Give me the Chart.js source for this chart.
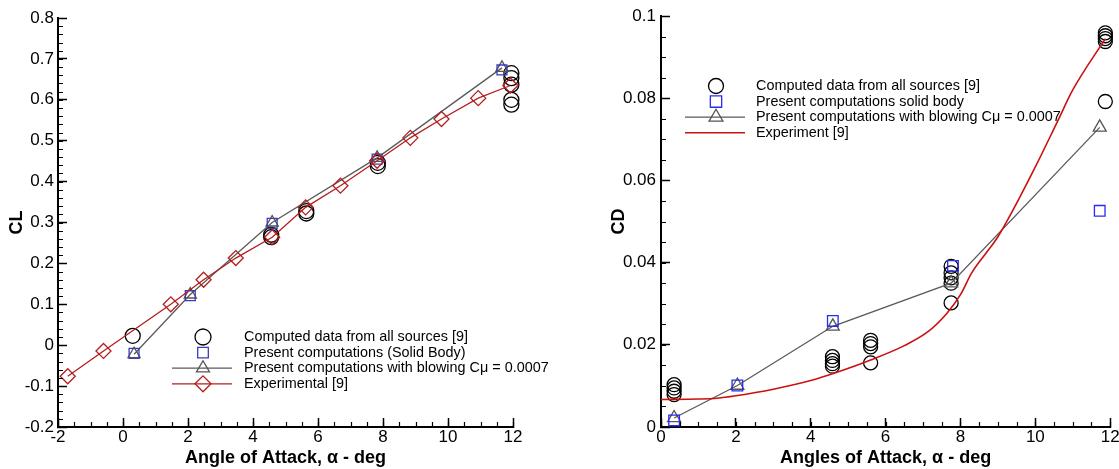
<!DOCTYPE html>
<html>
<head>
<meta charset="utf-8">
<script src="https://cdn.jsdelivr.net/npm/chart.js@4.4.1/dist/chart.umd.min.js"></script>
<style>
  html, body { margin: 0; padding: 0; background: #fff; overflow: hidden; }
  canvas { position: absolute; top: 0; }
</style>
</head>
<body>
<canvas id="cl" style="left:0" width="560" height="469"></canvas>
<canvas id="cd" style="left:560px" width="559" height="469"></canvas>
<script>
// ---- lift coefficient (left panel) ----
const clXTicks = [-2, 0, 2, 4, 6, 8, 10, 12];
const clYTicks = [-0.2, -0.1, 0, 0.1, 0.2, 0.3, 0.4, 0.5, 0.6, 0.7, 0.8];

const clCompAlpha = [0.30, 4.56, 4.56, 5.64, 5.64, 7.84, 7.84, 11.95, 11.95, 11.95, 11.95, 11.95];
const clComp      = [0.023, 0.264, 0.270, 0.322, 0.328, 0.438, 0.446, 0.665, 0.653, 0.637, 0.600, 0.588];
const clSolidAlpha = [0.34, 2.07, 4.59, 7.82, 11.66];
const clSolid      = [-0.020, 0.121, 0.298, 0.455, 0.673];
const clBlowAlpha  = [0.34, 2.07, 4.59, 7.82, 11.66];
const clBlow       = [-0.022, 0.124, 0.300, 0.458, 0.678];
const clExpAlpha = [-1.70, -0.60, 1.47, 2.48, 3.47, 4.59, 5.62, 6.69, 7.82, 8.84, 9.80, 10.93, 11.92];
const clExp      = [-0.076, -0.014, 0.100, 0.160, 0.213, 0.264, 0.337, 0.390, 0.451, 0.507, 0.553, 0.604, 0.635];

const clLabels = [
  'Computed data from all sources [9]',
  'Present computations (Solid Body)',
  'Present computations with blowing Cμ = 0.0007',
  'Experimental [9]'
];

// ---- drag coefficient (right panel) ----
const cdXTicks = [0, 2, 4, 6, 8, 10, 12];
const cdYTicks = [0, 0.02, 0.04, 0.06, 0.08, 0.1];

const cdCompAlpha = [0.35, 0.35, 0.35, 0.35, 4.58, 4.58, 4.58, 4.58, 5.60, 5.60, 5.60, 5.60,
                     7.75, 7.75, 7.75, 7.75, 7.75, 11.87, 11.87, 11.87, 11.87, 11.87];
const cdComp      = [0.0103, 0.0095, 0.0087, 0.0079, 0.0171, 0.0162, 0.0154, 0.0148, 0.0211, 0.0203, 0.0195, 0.0156,
                     0.0391, 0.0375, 0.0363, 0.0350, 0.0302, 0.0959, 0.0952, 0.0945, 0.0938, 0.0792];
const cdSolidAlpha = [0.35, 2.04, 4.59, 7.80, 11.72];
const cdSolid      = [0.0016, 0.0101, 0.0258, 0.0392, 0.0526];
const cdBlowAlpha  = [0.35, 2.04, 4.59, 7.75, 11.72];
const cdBlow       = [0.0022, 0.0101, 0.0245, 0.0350, 0.0729];
const cdExpAlpha = [0, 1.0, 1.5, 2.0, 3.0, 4.0, 4.6, 5.6, 6.5, 7.15, 7.65, 8.0, 8.3, 8.7, 9.0, 10.0, 10.6, 11.0, 11.87];
const cdExp      = [0.0067, 0.0068, 0.0070, 0.0076, 0.0092, 0.0113, 0.0130, 0.0163, 0.0198, 0.0233, 0.0278,
                    0.0322, 0.0375, 0.0425, 0.0463, 0.0633, 0.0745, 0.0820, 0.0945];

const cdLabels = [
  'Computed data from all sources [9]',
  'Present computations solid body',
  'Present computations with blowing Cμ = 0.0007',
  'Experiment [9]'
];

const FONT = "'Liberation Sans', Arial, sans-serif";
const pairs = (xs, ys) => xs.map((x, i) => ({ x: x, y: ys[i] }));
const fmt = v => String(+Number(v).toFixed(3));

// small inward minor ticks, tecplot style
const minorTicks = {
  id: 'minorTicks',
  afterDraw(chart, args, opts) {
    const { ctx, chartArea, scales } = chart;
    ctx.save();
    ctx.strokeStyle = '#000';
    ctx.lineWidth = 1.2;
    ctx.beginPath();
    const xs = scales.x, ys = scales.y;
    const nx = Math.round((xs.max - xs.min) / opts.x);
    for (let i = 0; i <= nx; i++) {
      const px = Math.round(xs.getPixelForValue(xs.min + i * opts.x)) + 0.5;
      ctx.moveTo(px, chartArea.bottom);
      ctx.lineTo(px, chartArea.bottom - opts.len);
    }
    const ny = Math.round((ys.max - ys.min) / opts.y);
    for (let i = 0; i <= ny; i++) {
      const py = Math.round(ys.getPixelForValue(ys.min + i * opts.y)) + 0.5;
      ctx.moveTo(chartArea.left, py);
      ctx.lineTo(chartArea.left + opts.len, py);
    }
    ctx.stroke();
    ctx.restore();
  }
};

// legend block placed inside the plot like the original
const boxLegend = {
  id: 'boxLegend',
  afterDraw(chart, args, opts) {
    const ctx = chart.ctx;
    ctx.save();
    ctx.font = opts.font;
    ctx.textBaseline = 'middle';
    chart.data.datasets.forEach((ds, row) => {
      const y = opts.y + row * opts.rowGap;
      if (ds.showLine) {
        ctx.strokeStyle = ds.borderColor;
        ctx.lineWidth = ds.borderWidth;
        ctx.beginPath();
        ctx.moveTo(opts.lineFrom, y);
        ctx.lineTo(opts.lineTo, y);
        ctx.stroke();
      }
      if (ds.pointRadius > 0) {
        ctx.strokeStyle = ds.pointBorderColor;
        ctx.fillStyle = 'rgba(0,0,0,0)';
        ctx.lineWidth = ds.pointBorderWidth;
        Chart.helpers.drawPoint(ctx, {
          pointStyle: ds.pointStyle, rotation: 0,
          radius: ds.pointRadius + (opts.grow || 0), borderWidth: ds.pointBorderWidth
        }, opts.x, y);
      }
      ctx.fillStyle = '#000';
      ctx.fillText(ds.label, opts.textX, y);
    });
    ctx.restore();
  }
};

function axes(c) {
  return {
    x: {
      type: 'linear', min: c.xTicks[0], max: c.xTicks[c.xTicks.length - 1],
      afterBuildTicks: s => { s.ticks = c.xTicks.map(v => ({ value: v })); },
      afterFit: s => { s.height = c.xHeight; s.paddingLeft = 0; s.paddingRight = 0; },
      grid: { drawOnChartArea: false, drawTicks: true, tickLength: -9, tickColor: '#000', tickWidth: 1.5 },
      border: { display: true, color: '#000', width: 2 },
      ticks: { callback: fmt, color: '#000', padding: 9, autoSkip: false, maxRotation: 0,
               font: { family: FONT, size: 17 } },
      title: { display: true, text: c.xTitle, color: '#000', padding: { top: 0, bottom: 0 },
               font: { family: FONT, size: 18, weight: 'bold' } }
    },
    y: {
      type: 'linear', min: c.yTicks[0], max: c.yTicks[c.yTicks.length - 1],
      afterBuildTicks: s => { s.ticks = c.yTicks.map(v => ({ value: v })); },
      afterFit: s => { s.width = c.yWidth; s.paddingTop = 0; s.paddingBottom = 0; },
      grid: { drawOnChartArea: false, drawTicks: true, tickLength: -9, tickColor: '#000', tickWidth: 1.5 },
      border: { display: true, color: '#000', width: 2 },
      ticks: { callback: fmt, color: '#000', padding: c.yPad, autoSkip: false,
               font: { family: FONT, size: 17 } },
      title: { display: true, text: c.yTitle, color: '#000', padding: { top: c.yTitlePad, bottom: 0 },
               font: { family: FONT, size: 18, weight: 'bold' } }
    }
  };
}

function marker(label, data, style, color, r, order, line) {
  return {
    label: label, data: data, order: order,
    showLine: !!line, borderColor: line || color, borderWidth: 1.3,
    pointStyle: style, pointRadius: r, pointBorderColor: color, pointBorderWidth: 1.3,
    pointBackgroundColor: 'rgba(0,0,0,0)', clip: false
  };
}

new Chart(document.getElementById('cl'), {
  type: 'scatter',
  data: {
    datasets: [
      marker(clLabels[0], pairs(clCompAlpha, clComp), 'circle', '#000', 7.5, 4),
      marker(clLabels[1], pairs(clSolidAlpha, clSolid), 'rect', '#3c3cb4', 7, 2),
      marker(clLabels[2], pairs(clBlowAlpha, clBlow), 'triangle', '#555', 7, 3, '#5a5a5a'),
      marker(clLabels[3], pairs(clExpAlpha, clExp), 'rectRot', '#b41e1e', 7.5, 1, '#b41e1e')
    ]
  },
  options: {
    responsive: false, animation: false,
    layout: { padding: { left: 0, right: 47, top: 18, bottom: 0 } },
    scales: axes({ xTicks: clXTicks, yTicks: clYTicks, xHeight: 42, yWidth: 58, yPad: 13, yTitlePad: 6,
                   xTitle: 'Angle of Attack, α - deg', yTitle: 'CL' }),
    plugins: {
      legend: { display: false }, tooltip: { enabled: false },
      minorTicks: { x: 0.5, y: 0.02, len: 5 },
      boxLegend: { x: 203, lineFrom: 172, lineTo: 232, textX: 244, y: 337, rowGap: 15.6, grow: 0.5,
                   font: '14.4px ' + FONT }
    }
  },
  plugins: [minorTicks, boxLegend]
});

const cdExpSet = marker(cdLabels[3], pairs(cdExpAlpha, cdExp), 'circle', '#cc1010', 0, 1, '#cc1010');
cdExpSet.cubicInterpolationMode = 'monotone';
cdExpSet.borderWidth = 1.6;

new Chart(document.getElementById('cd'), {
  type: 'scatter',
  data: {
    datasets: [
      marker(cdLabels[0], pairs(cdCompAlpha, cdComp), 'circle', '#000', 7, 4),
      marker(cdLabels[1], pairs(cdSolidAlpha, cdSolid), 'rect', '#2a2af0', 7.5, 2),
      marker(cdLabels[2], pairs(cdBlowAlpha, cdBlow), 'triangle', '#555', 7.5, 3, '#5a5a5a'),
      cdExpSet
    ]
  },
  options: {
    responsive: false, animation: false,
    layout: { padding: { left: 0, right: 6, top: 16, bottom: 0 } },
    scales: axes({ xTicks: cdXTicks, yTicks: cdYTicks, xHeight: 42, yWidth: 101, yPad: 14, yTitlePad: 48,
                   xTitle: 'Angles of Attack, α - deg', yTitle: 'CD' }),
    plugins: {
      legend: { display: false }, tooltip: { enabled: false },
      minorTicks: { x: 0.5, y: 0.005, len: 5 },
      boxLegend: { x: 156, lineFrom: 125, lineTo: 185, textX: 196, y: 86, rowGap: 15.6, grow: 0.5,
                   font: '14.4px ' + FONT }
    }
  },
  plugins: [minorTicks, boxLegend]
});
</script>
</body>
</html>
